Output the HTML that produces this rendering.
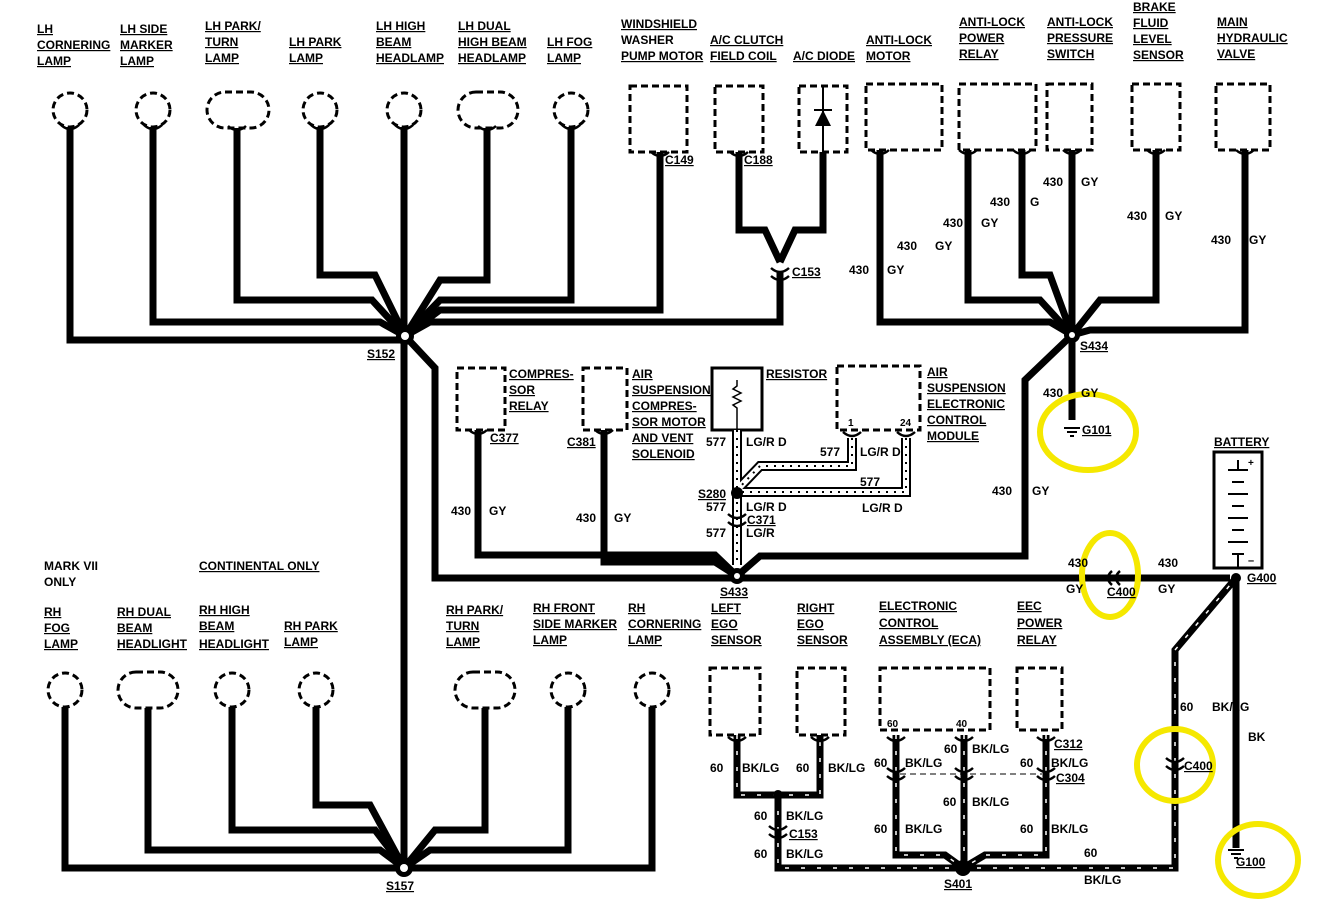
<!DOCTYPE html>
<html><head><meta charset="utf-8"><style>
html,body{margin:0;padding:0;background:#fff}
svg{display:block}
text{font-family:"Liberation Sans",sans-serif;font-weight:bold;font-size:12px;fill:#000}
.u{text-decoration:underline}
.w{fill:none;stroke:#000;stroke-width:7;stroke-linejoin:miter}
.d{fill:#fff;stroke:#000;stroke-width:3;stroke-dasharray:7 4}
.s{fill:none;stroke:#fff;stroke-width:1.5;stroke-dasharray:4 12}
</style></head><body>
<svg width="1332" height="908" viewBox="0 0 1332 908" xmlns="http://www.w3.org/2000/svg">
<!-- TOP LEFT LAMPS -->
<g class="d">
<circle cx="70" cy="110" r="17"/><circle cx="153" cy="110" r="17"/>
<rect x="207" y="92" width="62" height="36" rx="18"/>
<circle cx="320" cy="110" r="17"/><circle cx="404" cy="110" r="17"/>
<rect x="458" y="92" width="60" height="36" rx="18"/>
<circle cx="571" cy="110" r="17"/>
<rect x="630" y="86" width="57" height="66"/>
<rect x="715" y="86" width="48" height="66"/>
<rect x="866" y="84" width="76" height="66"/>
<rect x="959" y="84" width="77" height="66"/>
<rect x="1047" y="84" width="45" height="66"/>
<rect x="1132" y="84" width="48" height="66"/>
<rect x="1216" y="84" width="54" height="66"/>
<rect x="457" y="368" width="48" height="62"/>
<rect x="583" y="368" width="44" height="62"/>
<rect x="837" y="366" width="83" height="64"/>
<circle cx="65" cy="690" r="17"/>
<rect x="118" y="672" width="60" height="36" rx="18"/>
<circle cx="232" cy="690" r="17"/><circle cx="316" cy="690" r="17"/>
<rect x="455" y="672" width="60" height="36" rx="18"/>
<circle cx="568" cy="690" r="17"/><circle cx="652" cy="690" r="17"/>
<rect x="710" y="668" width="50" height="67"/>
<rect x="797" y="668" width="48" height="67"/>
<rect x="880" y="668" width="110" height="62"/>
<rect x="1017" y="668" width="45" height="62"/>
</g>
<!-- A/C diode -->
<rect x="799" y="86" width="48" height="66" fill="#fff" stroke="#000" stroke-width="3" stroke-dasharray="7 4"/>
<line x1="823" y1="86" x2="823" y2="152" stroke="#000" stroke-width="2"/>
<polygon points="815,126 831,126 823,110" fill="#000"/><line x1="814" y1="110" x2="832" y2="110" stroke="#000" stroke-width="2"/>
<!-- Resistor -->
<rect x="712" y="368" width="50" height="62" fill="#fff" stroke="#000" stroke-width="3"/>
<polyline points="737,380 737,386 733,389 741,393 733,397 741,401 733,405 737,408 737,430" fill="none" stroke="#000" stroke-width="1.5"/>
<!-- Battery -->
<rect x="1214" y="452" width="48" height="116" fill="#fff" stroke="#000" stroke-width="3"/>
<g stroke="#000" stroke-width="2">
<line x1="1238" y1="460" x2="1238" y2="470"/><line x1="1228" y1="470" x2="1248" y2="470"/>
<line x1="1232" y1="482" x2="1244" y2="482"/><line x1="1228" y1="494" x2="1248" y2="494"/>
<line x1="1232" y1="506" x2="1244" y2="506"/><line x1="1228" y1="518" x2="1248" y2="518"/>
<line x1="1232" y1="530" x2="1244" y2="530"/><line x1="1228" y1="542" x2="1248" y2="542"/>
<line x1="1232" y1="554" x2="1244" y2="554"/><line x1="1238" y1="554" x2="1238" y2="568"/>
</g>
<text x="1248" y="466" style="font-size:10px">+</text><text x="1248" y="564" style="font-size:11px">–</text>

<!-- TOP LEFT WIRES to S152 (405,336) -->
<g class="w">
<polyline points="70,127 70,340 405,340"/>
<polyline points="153,127 153,322 380,322 405,336"/>
<polyline points="237,128 237,300 372,300 405,336"/>
<polyline points="320,127 320,275 375,275 405,336"/>
<polyline points="404,127 404,336"/>
<polyline points="487,128 487,280 440,280 405,336"/>
<polyline points="571,127 571,300 440,300 405,336"/>
<polyline points="660,152 660,310 440,310 405,336"/>
<polyline points="780,272 780,322 430,322 405,336"/>
<polyline points="739,152 739,230 765,230 780,262"/>
<polyline points="823,152 823,230 795,230 780,262"/>
<polyline points="404,336 404,868"/>
<polyline points="405,336 435,368 435,578 737,578"/>
<polyline points="478,430 478,555 715,555 737,576"/>
<polyline points="604,430 604,562 715,562 737,576"/>
<polyline points="737,578 1230,578"/>
<polyline points="737,576 760,556 1025,556 1025,380 1072,335"/>
<!-- right top -->
<polyline points="880,150 880,322 1050,322 1072,335"/>
<polyline points="968,150 968,300 1040,300 1072,335"/>
<polyline points="1022,150 1022,275 1050,275 1072,335"/>
<polyline points="1072,150 1072,420"/>
<polyline points="1156,150 1156,300 1100,300 1072,335"/>
<polyline points="1245,150 1245,330 1090,330 1072,335"/>
<!-- BK to G100 -->
<polyline points="1236,578 1236,848"/>
<!-- bottom left lamps to S157 (404,868) -->
<polyline points="65,707 65,868 404,868"/>
<polyline points="148,708 148,850 380,850 404,868"/>
<polyline points="232,707 232,830 375,830 404,868"/>
<polyline points="316,707 316,805 370,805 404,868"/>
<polyline points="485,708 485,830 435,830 404,868"/>
<polyline points="568,707 568,850 430,850 404,868"/>
<polyline points="652,707 652,868 404,868"/>
</g>
<!-- striped wires -->
<g class="w">
<polyline points="737,735 737,795 820,795 820,735"/>
<polyline points="778,795 778,868 1175,868 1175,650 1236,578"/>
<polyline points="896,735 896,855 945,855 963,868"/>
<polyline points="964,735 964,868"/>
<polyline points="1046,735 1046,855 985,855 963,868"/>
</g>
<g class="s">
<polyline points="737,735 737,795 820,795 820,735"/>
<polyline points="778,795 778,868 1175,868 1175,650 1236,578"/>
<polyline points="896,735 896,855 945,855 963,868"/>
<polyline points="964,735 964,868"/>
<polyline points="1046,735 1046,855 985,855 963,868"/>
</g>
<line x1="900" y1="774" x2="1042" y2="774" stroke="#000" stroke-width="1" stroke-dasharray="6 4"/>
<!-- dotted wires -->
<g fill="none" stroke="#000" stroke-width="10">
<polyline points="737,430 737,565"/>
<polyline points="852,438 852,466 760,466 737,490"/>
<polyline points="906,438 906,492 737,492"/>
</g>
<g fill="none" stroke="#fff" stroke-width="6">
<polyline points="737,430 737,565"/>
<polyline points="852,438 852,466 760,466 737,490"/>
<polyline points="906,438 906,492 737,492"/>
</g>
<g fill="none" stroke="#000" stroke-width="2" stroke-dasharray="2 6">
<polyline points="737,430 737,565"/>
<polyline points="852,438 852,466 760,466 737,490"/>
<polyline points="906,438 906,492 737,492"/>
</g>
<!-- splices -->
<g fill="#000">
<circle cx="405" cy="336" r="9"/><circle cx="404" cy="868" r="9"/>
<circle cx="737" cy="576" r="8"/><circle cx="737" cy="493" r="6"/>
<circle cx="1072" cy="335" r="8"/><circle cx="1236" cy="578" r="5"/>
<circle cx="963" cy="868" r="8"/><circle cx="778" cy="795" r="5"/>
</g>
<circle cx="405" cy="336" r="4" fill="#fff"/><circle cx="404" cy="868" r="4" fill="#fff"/>
<circle cx="737" cy="576" r="3" fill="#fff"/><circle cx="1072" cy="335" r="3" fill="#fff"/>
<!-- connectors (chevrons) -->
<g fill="none" stroke="#000" stroke-width="2.5">
<path d="M771,268 q9,8 18,0 M771,276 q9,8 18,0"/>
<path d="M1112,571 q-8,7 0,14 M1120,571 q-8,7 0,14"/>
<path d="M1166,758 q9,8 18,0 M1166,766 q9,8 18,0"/>
<path d="M769,826 q9,8 18,0 M769,834 q9,8 18,0"/>
<path d="M728,514 q9,8 18,0 M728,522 q9,8 18,0"/>
<path d="M887,768 q9,8 18,0 M887,776 q9,8 18,0"/>
<path d="M955,768 q9,8 18,0 M955,776 q9,8 18,0"/>
<path d="M1037,768 q9,8 18,0 M1037,776 q9,8 18,0"/>
<path d="M61,125 q9,8 18,0"/><path d="M144,125 q9,8 18,0"/><path d="M228,126 q9,8 18,0"/>
<path d="M311,125 q9,8 18,0"/><path d="M395,125 q9,8 18,0"/><path d="M478,126 q9,8 18,0"/><path d="M562,125 q9,8 18,0"/>
<path d="M651,152 q9,8 18,0"/><path d="M730,152 q9,8 18,0"/><path d="M871,150 q9,8 18,0"/>
<path d="M959,150 q9,8 18,0"/><path d="M1013,150 q9,8 18,0"/><path d="M1063,150 q9,8 18,0"/>
<path d="M1147,150 q9,8 18,0"/><path d="M1236,150 q9,8 18,0"/>
<path d="M469,430 q9,8 18,0"/><path d="M595,430 q9,8 18,0"/>
<path d="M843,432 q9,8 18,0"/><path d="M897,432 q9,8 18,0"/>
<path d="M728,737 q9,8 18,0"/><path d="M811,737 q9,8 18,0"/>
<path d="M887,737 q9,8 18,0"/><path d="M955,737 q9,8 18,0"/><path d="M1037,737 q9,8 18,0"/>
</g>
<!-- grounds -->
<g stroke="#000" stroke-width="2">
<line x1="1064" y1="428" x2="1080" y2="428"/><line x1="1067" y1="432" x2="1077" y2="432"/><line x1="1070" y1="436" x2="1074" y2="436"/>
<line x1="1228" y1="850" x2="1244" y2="850"/><line x1="1231" y1="854" x2="1241" y2="854"/><line x1="1234" y1="858" x2="1238" y2="858"/>
</g>
<!-- yellow circles -->
<g fill="none" stroke="#f5e800" stroke-width="6">
<ellipse cx="1088" cy="432" rx="48" ry="38"/>
<ellipse cx="1110" cy="575" rx="28" ry="42"/>
<ellipse cx="1175" cy="765" rx="38" ry="36"/>
<ellipse cx="1258" cy="860" rx="40" ry="36"/>
</g>

<!-- LABELS -->
<g>
<text x="37" y="33" class="u">LH</text><text x="37" y="49" class="u">CORNERING</text><text x="37" y="65" class="u">LAMP</text>
<text x="120" y="33" class="u">LH SIDE</text><text x="120" y="49" class="u">MARKER</text><text x="120" y="65" class="u">LAMP</text>
<text x="205" y="30" class="u">LH PARK/</text><text x="205" y="46" class="u">TURN</text><text x="205" y="62" class="u">LAMP</text>
<text x="289" y="46" class="u">LH PARK</text><text x="289" y="62" class="u">LAMP</text>
<text x="376" y="30" class="u">LH HIGH</text><text x="376" y="46" class="u">BEAM</text><text x="376" y="62" class="u">HEADLAMP</text>
<text x="458" y="30" class="u">LH DUAL</text><text x="458" y="46" class="u">HIGH BEAM</text><text x="458" y="62" class="u">HEADLAMP</text>
<text x="547" y="46" class="u">LH FOG</text><text x="547" y="62" class="u">LAMP</text>
<text x="621" y="28" class="u">WINDSHIELD</text><text x="621" y="44">WASHER</text><text x="621" y="60" class="u">PUMP MOTOR</text>
<text x="710" y="44" class="u">A/C CLUTCH</text><text x="710" y="60" class="u">FIELD COIL</text>
<text x="793" y="60" class="u">A/C DIODE</text>
<text x="866" y="44" class="u">ANTI-LOCK</text><text x="866" y="60" class="u">MOTOR</text>
<text x="959" y="26" class="u">ANTI-LOCK</text><text x="959" y="42" class="u">POWER</text><text x="959" y="58" class="u">RELAY</text>
<text x="1047" y="26" class="u">ANTI-LOCK</text><text x="1047" y="42" class="u">PRESSURE</text><text x="1047" y="58" class="u">SWITCH</text>
<text x="1133" y="11" class="u">BRAKE</text><text x="1133" y="27" class="u">FLUID</text><text x="1133" y="43" class="u">LEVEL</text><text x="1133" y="59" class="u">SENSOR</text>
<text x="1217" y="26" class="u">MAIN</text><text x="1217" y="42" class="u">HYDRAULIC</text><text x="1217" y="58" class="u">VALVE</text>
<text x="665" y="164" class="u">C149</text><text x="744" y="164" class="u">C188</text>
<text x="792" y="276" class="u">C153</text><text x="367" y="358" class="u">S152</text>
<text x="849" y="274">430</text><text x="887" y="274">GY</text>
<text x="897" y="250">430</text><text x="935" y="250">GY</text>
<text x="943" y="227">430</text><text x="981" y="227">GY</text>
<text x="990" y="206">430</text><text x="1030" y="206">G</text>
<text x="1043" y="186">430</text><text x="1081" y="186">GY</text>
<text x="1127" y="220">430</text><text x="1165" y="220">GY</text>
<text x="1211" y="244">430</text><text x="1249" y="244">GY</text>
<text x="1080" y="350" class="u">S434</text>
<text x="1043" y="397">430</text><text x="1081" y="397">GY</text>
<text x="1082" y="434" class="u">G101</text>
<text x="1214" y="446" class="u">BATTERY</text>
<text x="992" y="495">430</text><text x="1032" y="495">GY</text>
<text x="509" y="378" class="u">COMPRES-</text><text x="509" y="394" class="u">SOR</text><text x="509" y="410" class="u">RELAY</text>
<text x="632" y="378" class="u">AIR</text><text x="632" y="394" class="u">SUSPENSION</text><text x="632" y="410" class="u">COMPRES-</text><text x="632" y="426" class="u">SOR MOTOR</text><text x="632" y="442" class="u">AND VENT</text><text x="632" y="458" class="u">SOLENOID</text>
<text x="766" y="378" class="u">RESISTOR</text>
<text x="927" y="376" class="u">AIR</text><text x="927" y="392" class="u">SUSPENSION</text><text x="927" y="408" class="u">ELECTRONIC</text><text x="927" y="424" class="u">CONTROL</text><text x="927" y="440" class="u">MODULE</text>
<text x="848" y="426" style="font-size:10px">1</text><text x="900" y="426" style="font-size:10px">24</text>
<text x="490" y="442" class="u">C377</text><text x="567" y="446" class="u">C381</text>
<text x="706" y="446">577</text><text x="746" y="446">LG/R D</text>
<text x="820" y="456">577</text><text x="860" y="456">LG/R D</text>
<text x="860" y="486">577</text><text x="862" y="512">LG/R D</text>
<text x="698" y="498" class="u">S280</text><text x="706" y="511">577</text><text x="746" y="511">LG/R D</text>
<text x="747" y="524" class="u">C371</text><text x="706" y="537">577</text><text x="746" y="537">LG/R</text>
<text x="451" y="515">430</text><text x="489" y="515">GY</text>
<text x="576" y="522">430</text><text x="614" y="522">GY</text>
<text x="720" y="596" class="u">S433</text>
<text x="1068" y="567">430</text><text x="1066" y="593">GY</text><text x="1107" y="596" class="u">C400</text>
<text x="1158" y="567">430</text><text x="1158" y="593">GY</text>
<text x="1247" y="582" class="u">G400</text>
<text x="1180" y="711">60</text><text x="1212" y="711">BK/LG</text>
<text x="1248" y="741">BK</text>
<text x="1184" y="770" class="u">C400</text>
<text x="1236" y="866" class="u">G100</text>
<text x="44" y="570">MARK VII</text><text x="44" y="586">ONLY</text>
<text x="199" y="570" class="u">CONTINENTAL ONLY</text>
<text x="44" y="616" class="u">RH</text><text x="44" y="632" class="u">FOG</text><text x="44" y="648" class="u">LAMP</text>
<text x="117" y="616" class="u">RH DUAL</text><text x="117" y="632" class="u">BEAM</text><text x="117" y="648" class="u">HEADLIGHT</text>
<text x="199" y="614" class="u">RH HIGH</text><text x="199" y="630" class="u">BEAM</text><text x="199" y="648" class="u">HEADLIGHT</text>
<text x="284" y="630" class="u">RH PARK</text><text x="284" y="646" class="u">LAMP</text>
<text x="446" y="614" class="u">RH PARK/</text><text x="446" y="630" class="u">TURN</text><text x="446" y="646" class="u">LAMP</text>
<text x="533" y="612" class="u">RH FRONT</text><text x="533" y="628" class="u">SIDE MARKER</text><text x="533" y="644" class="u">LAMP</text>
<text x="628" y="612" class="u">RH</text><text x="628" y="628" class="u">CORNERING</text><text x="628" y="644" class="u">LAMP</text>
<text x="711" y="612" class="u">LEFT</text><text x="711" y="628" class="u">EGO</text><text x="711" y="644" class="u">SENSOR</text>
<text x="797" y="612" class="u">RIGHT</text><text x="797" y="628" class="u">EGO</text><text x="797" y="644" class="u">SENSOR</text>
<text x="879" y="610" class="u">ELECTRONIC</text><text x="879" y="627" class="u">CONTROL</text><text x="879" y="644" class="u">ASSEMBLY (ECA)</text>
<text x="1017" y="610" class="u">EEC</text><text x="1017" y="627" class="u">POWER</text><text x="1017" y="644" class="u">RELAY</text>
<text x="887" y="727" style="font-size:10px">60</text><text x="956" y="727" style="font-size:10px">40</text>
<text x="710" y="772">60</text><text x="742" y="772">BK/LG</text>
<text x="796" y="772">60</text><text x="828" y="772">BK/LG</text>
<text x="754" y="820">60</text><text x="786" y="820">BK/LG</text>
<text x="789" y="838" class="u">C153</text>
<text x="754" y="858">60</text><text x="786" y="858">BK/LG</text>
<text x="944" y="753">60</text><text x="972" y="753">BK/LG</text>
<text x="874" y="767">60</text><text x="905" y="767">BK/LG</text>
<text x="1020" y="767">60</text><text x="1051" y="767">BK/LG</text>
<text x="1054" y="748" class="u">C312</text><text x="1056" y="782" class="u">C304</text>
<text x="943" y="806">60</text><text x="972" y="806">BK/LG</text>
<text x="874" y="833">60</text><text x="905" y="833">BK/LG</text>
<text x="1020" y="833">60</text><text x="1051" y="833">BK/LG</text>
<text x="1084" y="857">60</text><text x="1084" y="884">BK/LG</text>
<text x="944" y="888" class="u">S401</text>
<text x="386" y="890" class="u">S157</text>
</g>
</svg>
</body></html>
